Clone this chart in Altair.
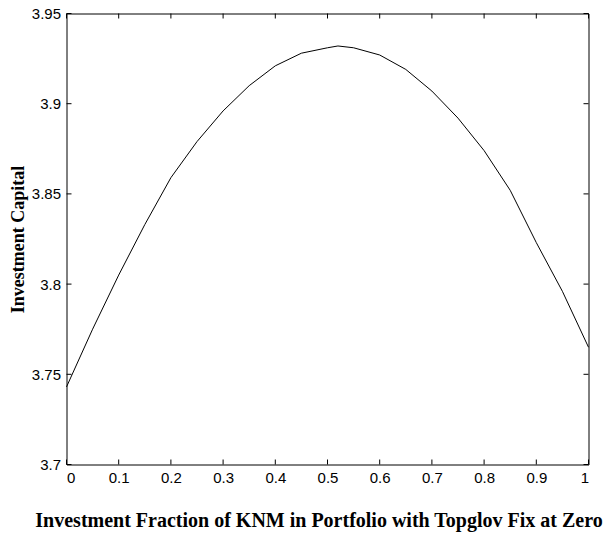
import altair as alt
import pandas as pd

# Curve values
frac = [0.0, 0.05, 0.1, 0.15, 0.2, 0.25, 0.3, 0.35, 0.4, 0.45, 0.5, 0.52,
        0.55, 0.6, 0.65, 0.7, 0.75, 0.8, 0.85, 0.9, 0.95, 1.0]
capital = [3.743, 3.775, 3.805, 3.833, 3.859, 3.879, 3.896, 3.910, 3.921, 3.928,
           3.931, 3.932, 3.931, 3.927, 3.919, 3.907, 3.892, 3.874, 3.852, 3.823,
           3.796, 3.765]

x_ticks = [0, 0.1, 0.2, 0.3, 0.4, 0.5, 0.6, 0.7, 0.8, 0.9, 1.0]
y_ticks = [3.7, 3.75, 3.8, 3.85, 3.9, 3.95]

W, H = 522, 451
TL = 5

df = pd.DataFrame({"x": frac, "y": capital})
dx = pd.DataFrame({"t": x_ticks})
dy = pd.DataFrame({"t": y_ticks})

xs = alt.Scale(domain=[0, 1], nice=False, zero=False)
ys = alt.Scale(domain=[3.7, 3.95], nice=False, zero=False)

line = alt.Chart(df).mark_line(color="black", strokeWidth=1).encode(
    x=alt.X("x:Q", scale=xs,
            axis=alt.Axis(values=x_ticks, format="~g", domain=False, ticks=False,
                          grid=False, labelPadding=6, labelFontSize=15,
                          labelFont="Liberation Sans", labelColor="black",
                          title="Investment Fraction of KNM in Portfolio with Topglov Fix at Zero",
                          titleFont="Liberation Serif", titleFontSize=20,
                          titleFontWeight="bold", titleColor="black",
                          titleX=252, titleY=56, titleAlign="center",
                          titleBaseline="middle")),
    y=alt.Y("y:Q", scale=ys,
            axis=alt.Axis(values=y_ticks, format=".2~f", domain=False, ticks=False,
                          grid=False, labelPadding=6, labelFontSize=15,
                          labelFont="Liberation Sans", labelColor="black",
                          title="Investment Capital",
                          titleFont="Liberation Serif", titleFontSize=18,
                          titleFontWeight="bold", titleColor="black",
                          titleX=-48, titleY=H / 2, titleAngle=270,
                          titleAlign="center", titleBaseline="middle")),
)

bottom_ticks = alt.Chart(dx).mark_rule(color="black", strokeWidth=1).encode(
    x=alt.X("t:Q", scale=xs), y=alt.value(H - TL), y2=alt.value(H))
top_ticks = alt.Chart(dx).mark_rule(color="black", strokeWidth=1).encode(
    x=alt.X("t:Q", scale=xs), y=alt.value(0), y2=alt.value(TL))
left_ticks = alt.Chart(dy).mark_rule(color="black", strokeWidth=1).encode(
    y=alt.Y("t:Q", scale=ys), x=alt.value(0), x2=alt.value(TL))
right_ticks = alt.Chart(dy).mark_rule(color="black", strokeWidth=1).encode(
    y=alt.Y("t:Q", scale=ys), x=alt.value(W - TL), x2=alt.value(W))

chart = alt.layer(line, bottom_ticks, top_ticks, left_ticks, right_ticks).properties(
    width=W, height=H,
    background="white",
    autosize=alt.AutoSizeParams(type="none"),
    padding={"left": 66.5, "top": 13.5, "right": 18.5, "bottom": 73.5},
).configure_view(stroke="black", strokeWidth=1)

chart.save("out.html", embed_options={"renderer": "svg", "actions": False})
